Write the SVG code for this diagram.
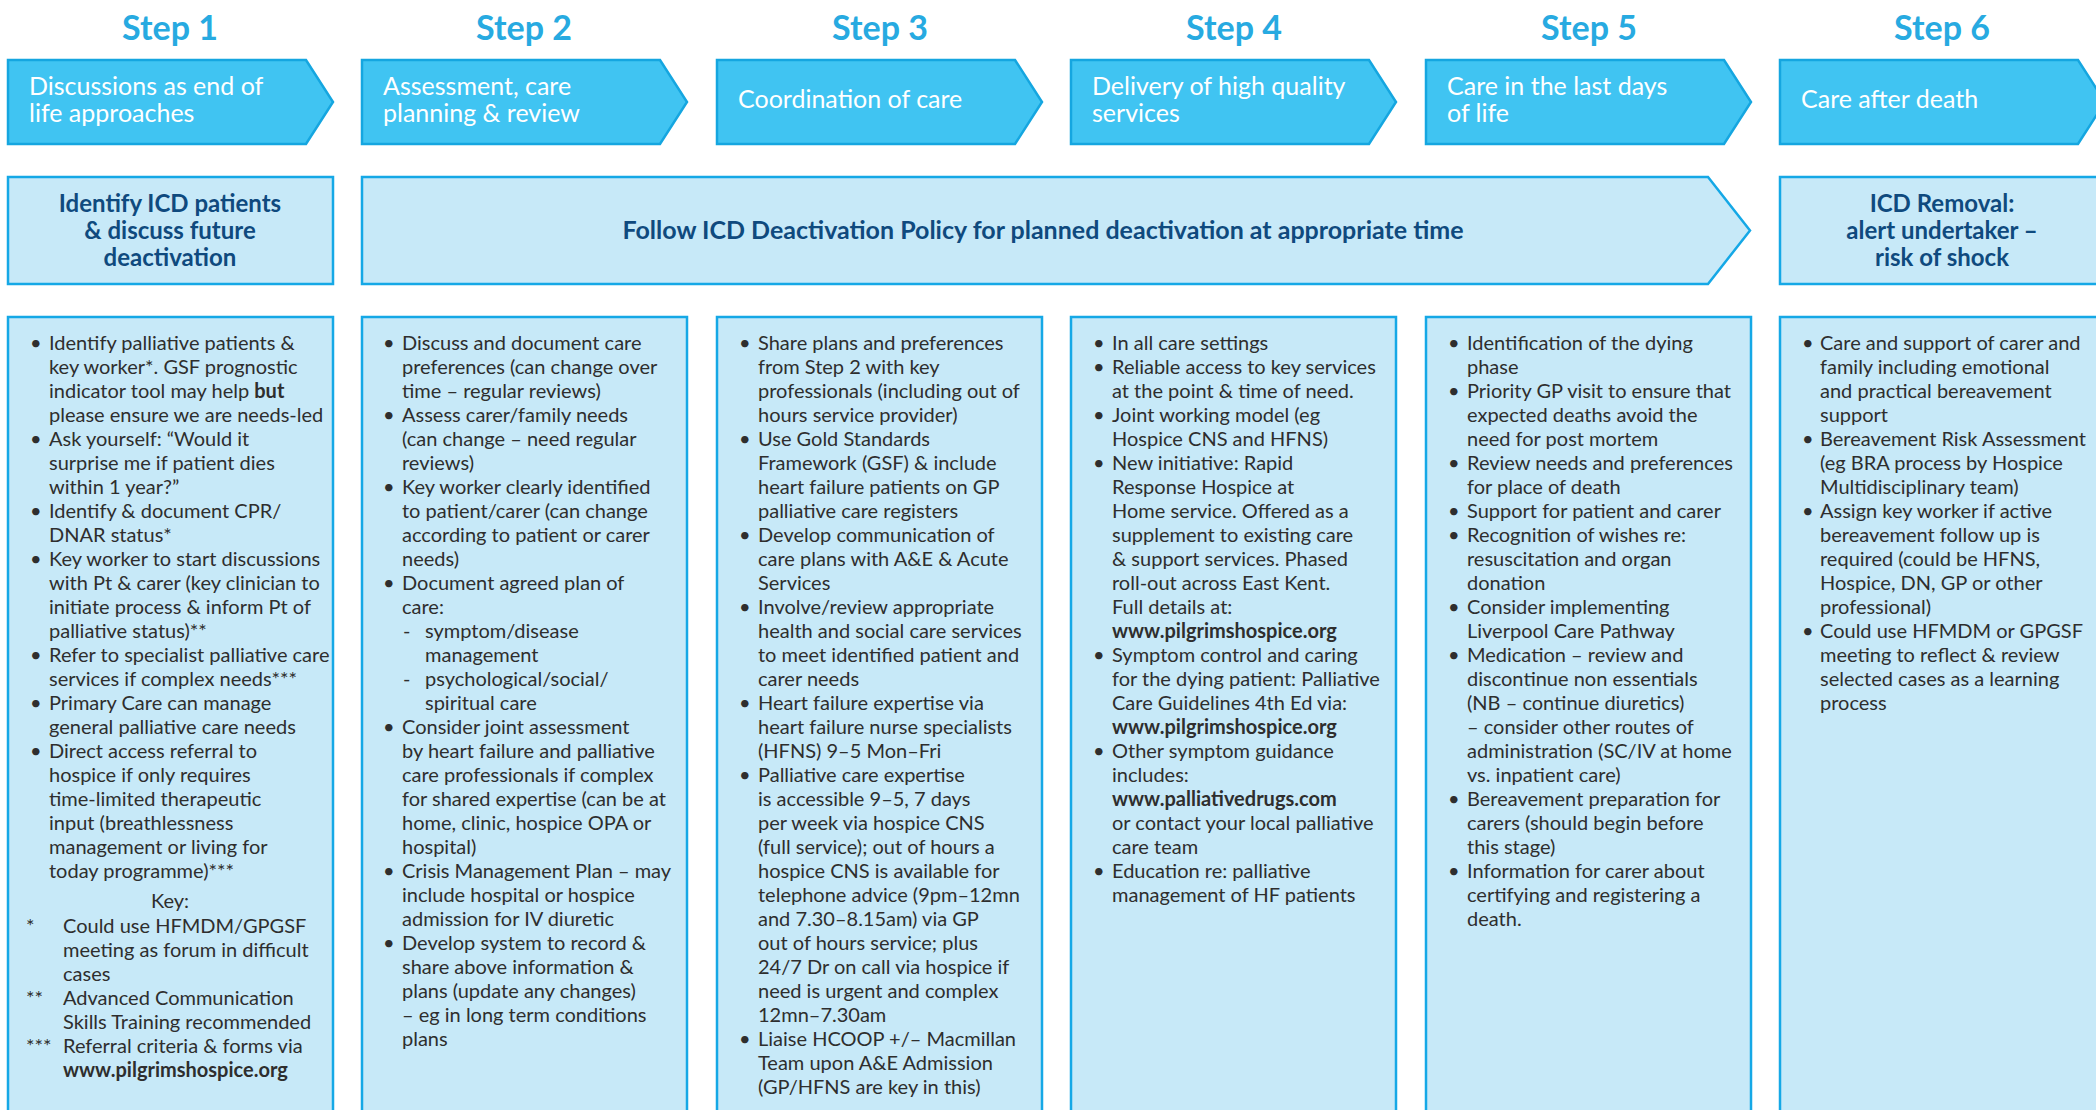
<svg xmlns="http://www.w3.org/2000/svg" width="2096" height="1110" viewBox="0 0 2096 1110">
<style>
.bg{fill:#ffffff}
.step{font-family:Lato,"Noto Sans",sans-serif;font-weight:bold;font-size:34px;fill:#27aae1;text-anchor:middle}
.hdr{fill:#40c4f2;stroke:#15a6e0;stroke-width:2.5}
.hdrt{font-family:Lato,"Noto Sans",sans-serif;font-size:25px;fill:#ffffff}
.lbox{fill:#c7e9f8;stroke:#15a8e6;stroke-width:2.5}
.lt{font-family:Lato,"Noto Sans",sans-serif;font-weight:bold;font-size:24px;fill:#0f4a7e;text-anchor:middle}
.body{font-family:Lato,"Noto Sans",sans-serif;font-size:20px;fill:#2e2e2e}
.b{font-weight:bold}
</style>
<rect class="bg" x="0" y="0" width="2096" height="1110"/>

<g id="col1">
  <text class="step" x="170" y="40">Step 1</text>
  <path class="hdr" d="M8,60 H306 L333,102 L306,144 H8 Z"/>
  <text class="hdrt" x="29" y="95">Discussions as end of</text>
  <text class="hdrt" x="29" y="122">life approaches</text>
  <rect class="lbox" x="8" y="177" width="325" height="107"/>
  <text class="lt" x="170" y="212">Identify ICD patients</text>
  <text class="lt" x="170" y="239">&amp; discuss future</text>
  <text class="lt" x="170" y="266">deactivation</text>
  <rect class="lbox" x="8" y="317" width="325" height="800"/>
  <text class="body">
    <tspan x="30" y="350">•</tspan><tspan x="30" y="446">•</tspan><tspan x="30" y="518">•</tspan><tspan x="30" y="566">•</tspan><tspan x="30" y="662">•</tspan><tspan x="30" y="710">•</tspan><tspan x="30" y="758">•</tspan>
  </text>
  <text class="body">
    <tspan x="49" y="350">Identify palliative patients &amp;</tspan>
    <tspan x="49" y="374">key worker*. GSF prognostic</tspan>
    <tspan x="49" y="398">indicator tool may help <tspan class="b">but</tspan></tspan>
    <tspan x="49" y="422">please ensure we are needs-led</tspan>
    <tspan x="49" y="446">Ask yourself: “Would it</tspan>
    <tspan x="49" y="470">surprise me if patient dies</tspan>
    <tspan x="49" y="494">within 1 year?”</tspan>
    <tspan x="49" y="518">Identify &amp; document CPR/</tspan>
    <tspan x="49" y="542">DNAR status*</tspan>
    <tspan x="49" y="566">Key worker to start discussions</tspan>
    <tspan x="49" y="590">with Pt &amp; carer (key clinician to</tspan>
    <tspan x="49" y="614">initiate process &amp; inform Pt of</tspan>
    <tspan x="49" y="638">palliative status)**</tspan>
    <tspan x="49" y="662">Refer to specialist palliative care</tspan>
    <tspan x="49" y="686">services if complex needs***</tspan>
    <tspan x="49" y="710">Primary Care can manage</tspan>
    <tspan x="49" y="734">general palliative care needs</tspan>
    <tspan x="49" y="758">Direct access referral to</tspan>
    <tspan x="49" y="782">hospice if only requires</tspan>
    <tspan x="49" y="806">time-limited therapeutic</tspan>
    <tspan x="49" y="830">input (breathlessness</tspan>
    <tspan x="49" y="854">management or living for</tspan>
    <tspan x="49" y="878">today programme)***</tspan>
  </text>
  <text class="body" x="170" y="908" text-anchor="middle">Key:</text>
  <text class="body">
    <tspan x="26" y="933">*</tspan>
    <tspan x="26" y="1005">**</tspan>
    <tspan x="26" y="1053">***</tspan>
  </text>
  <text class="body">
    <tspan x="63" y="933">Could use HFMDM/GPGSF</tspan>
    <tspan x="63" y="957">meeting as forum in difficult</tspan>
    <tspan x="63" y="981">cases</tspan>
    <tspan x="63" y="1005">Advanced Communication</tspan>
    <tspan x="63" y="1029">Skills Training recommended</tspan>
    <tspan x="63" y="1053">Referral criteria &amp; forms via</tspan>
    <tspan x="63" y="1077" class="b">www.pilgrimshospice.org</tspan>
  </text>
</g>

<g id="col2">
  <text class="step" x="524" y="40">Step 2</text>
  <path class="hdr" d="M362,60 H660 L687,102 L660,144 H362 Z"/>
  <text class="hdrt" x="383" y="95">Assessment, care</text>
  <text class="hdrt" x="383" y="122">planning &amp; review</text>
  <rect class="lbox" x="362" y="317" width="325" height="800"/>
  <text class="body">
    <tspan x="383" y="350">•</tspan><tspan x="383" y="422">•</tspan><tspan x="383" y="494">•</tspan><tspan x="383" y="590">•</tspan><tspan x="383" y="734">•</tspan><tspan x="383" y="878">•</tspan><tspan x="383" y="950">•</tspan>
  </text>
  <text class="body">
    <tspan x="402" y="350">Discuss and document care</tspan>
    <tspan x="402" y="374">preferences (can change over</tspan>
    <tspan x="402" y="398">time – regular reviews)</tspan>
    <tspan x="402" y="422">Assess carer/family needs</tspan>
    <tspan x="402" y="446">(can change – need regular</tspan>
    <tspan x="402" y="470">reviews)</tspan>
    <tspan x="402" y="494">Key worker clearly identified</tspan>
    <tspan x="402" y="518">to patient/carer (can change</tspan>
    <tspan x="402" y="542">according to patient or carer</tspan>
    <tspan x="402" y="566">needs)</tspan>
    <tspan x="402" y="590">Document agreed plan of</tspan>
    <tspan x="402" y="614">care:</tspan>
    <tspan x="403" y="638">-</tspan>
    <tspan x="425" y="638">symptom/disease</tspan>
    <tspan x="425" y="662">management</tspan>
    <tspan x="403" y="686">-</tspan>
    <tspan x="425" y="686">psychological/social/</tspan>
    <tspan x="425" y="710">spiritual care</tspan>
    <tspan x="402" y="734">Consider joint assessment</tspan>
    <tspan x="402" y="758">by heart failure and palliative</tspan>
    <tspan x="402" y="782">care professionals if complex</tspan>
    <tspan x="402" y="806">for shared expertise (can be at</tspan>
    <tspan x="402" y="830">home, clinic, hospice OPA or</tspan>
    <tspan x="402" y="854">hospital)</tspan>
    <tspan x="402" y="878">Crisis Management Plan – may</tspan>
    <tspan x="402" y="902">include hospital or hospice</tspan>
    <tspan x="402" y="926">admission for IV diuretic</tspan>
    <tspan x="402" y="950">Develop system to record &amp;</tspan>
    <tspan x="402" y="974">share above information &amp;</tspan>
    <tspan x="402" y="998">plans (update any changes)</tspan>
    <tspan x="402" y="1022">–  eg in long term conditions</tspan>
    <tspan x="402" y="1046">plans</tspan>
  </text>
</g>

<g id="follow-policy">
  <path class="lbox" d="M362,177 H1708 L1750,230.5 L1708,284 H362 Z"/>
  <text class="lt" x="1043" y="239" style="font-size:25px">Follow ICD Deactivation Policy for planned deactivation at appropriate time</text>
</g>

<g id="col3">
  <text class="step" x="880" y="40">Step 3</text>
  <path class="hdr" d="M717,60 H1015 L1042,102 L1015,144 H717 Z"/>
  <text class="hdrt" x="738" y="108">Coordination of care</text>
  <rect class="lbox" x="717" y="317" width="325" height="800"/>
  <text class="body">
    <tspan x="739" y="350">•</tspan><tspan x="739" y="446">•</tspan><tspan x="739" y="542">•</tspan><tspan x="739" y="614">•</tspan><tspan x="739" y="710">•</tspan><tspan x="739" y="782">•</tspan><tspan x="739" y="1046">•</tspan>
  </text>
  <text class="body">
    <tspan x="758" y="350">Share plans and preferences</tspan>
    <tspan x="758" y="374">from Step 2 with key</tspan>
    <tspan x="758" y="398">professionals (including out of</tspan>
    <tspan x="758" y="422">hours service provider)</tspan>
    <tspan x="758" y="446">Use Gold Standards</tspan>
    <tspan x="758" y="470">Framework (GSF) &amp; include</tspan>
    <tspan x="758" y="494">heart failure patients on GP</tspan>
    <tspan x="758" y="518">palliative care registers</tspan>
    <tspan x="758" y="542">Develop communication of</tspan>
    <tspan x="758" y="566">care plans with A&amp;E &amp; Acute</tspan>
    <tspan x="758" y="590">Services</tspan>
    <tspan x="758" y="614">Involve/review appropriate</tspan>
    <tspan x="758" y="638">health and social care services</tspan>
    <tspan x="758" y="662">to meet identified patient and</tspan>
    <tspan x="758" y="686">carer needs</tspan>
    <tspan x="758" y="710">Heart failure expertise via</tspan>
    <tspan x="758" y="734">heart failure nurse specialists</tspan>
    <tspan x="758" y="758">(HFNS) 9–5 Mon–Fri</tspan>
    <tspan x="758" y="782">Palliative care expertise</tspan>
    <tspan x="758" y="806">is accessible 9–5, 7 days</tspan>
    <tspan x="758" y="830">per week via hospice CNS</tspan>
    <tspan x="758" y="854">(full service); out of hours a</tspan>
    <tspan x="758" y="878">hospice CNS is available for</tspan>
    <tspan x="758" y="902">telephone advice (9pm–12mn</tspan>
    <tspan x="758" y="926">and 7.30–8.15am) via GP</tspan>
    <tspan x="758" y="950">out of hours service; plus</tspan>
    <tspan x="758" y="974">24/7 Dr on call via hospice if</tspan>
    <tspan x="758" y="998">need is urgent and complex</tspan>
    <tspan x="758" y="1022">12mn–7.30am</tspan>
    <tspan x="758" y="1046">Liaise HCOOP +/– Macmillan</tspan>
    <tspan x="758" y="1070">Team upon A&amp;E Admission</tspan>
    <tspan x="758" y="1094">(GP/HFNS are key in this)</tspan>
  </text>
</g>

<g id="col4">
  <text class="step" x="1234" y="40">Step 4</text>
  <path class="hdr" d="M1071,60 H1369 L1396,102 L1369,144 H1071 Z"/>
  <text class="hdrt" x="1092" y="95">Delivery of high quality</text>
  <text class="hdrt" x="1092" y="122">services</text>
  <rect class="lbox" x="1071" y="317" width="325" height="800"/>
  <text class="body">
    <tspan x="1093" y="350">•</tspan><tspan x="1093" y="374">•</tspan><tspan x="1093" y="422">•</tspan><tspan x="1093" y="470">•</tspan><tspan x="1093" y="662">•</tspan><tspan x="1093" y="758">•</tspan><tspan x="1093" y="878">•</tspan>
  </text>
  <text class="body">
    <tspan x="1112" y="350">In all care settings</tspan>
    <tspan x="1112" y="374">Reliable access to key services</tspan>
    <tspan x="1112" y="398">at the point &amp; time of need.</tspan>
    <tspan x="1112" y="422">Joint working model (eg</tspan>
    <tspan x="1112" y="446">Hospice CNS and HFNS)</tspan>
    <tspan x="1112" y="470">New initiative: Rapid</tspan>
    <tspan x="1112" y="494">Response Hospice at</tspan>
    <tspan x="1112" y="518">Home service. Offered as a</tspan>
    <tspan x="1112" y="542">supplement to existing care</tspan>
    <tspan x="1112" y="566">&amp; support services. Phased</tspan>
    <tspan x="1112" y="590">roll-out across East Kent.</tspan>
    <tspan x="1112" y="614">Full details at:</tspan>
    <tspan x="1112" y="638" class="b">www.pilgrimshospice.org</tspan>
    <tspan x="1112" y="662">Symptom control and caring</tspan>
    <tspan x="1112" y="686">for the dying patient: Palliative</tspan>
    <tspan x="1112" y="710">Care Guidelines 4th Ed via:</tspan>
    <tspan x="1112" y="734" class="b">www.pilgrimshospice.org</tspan>
    <tspan x="1112" y="758">Other symptom guidance</tspan>
    <tspan x="1112" y="782">includes:</tspan>
    <tspan x="1112" y="806" class="b">www.palliativedrugs.com</tspan>
    <tspan x="1112" y="830">or contact your local palliative</tspan>
    <tspan x="1112" y="854">care team</tspan>
    <tspan x="1112" y="878">Education re: palliative</tspan>
    <tspan x="1112" y="902">management of HF patients</tspan>
  </text>
</g>

<g id="col5">
  <text class="step" x="1589" y="40">Step 5</text>
  <path class="hdr" d="M1426,60 H1724 L1751,102 L1724,144 H1426 Z"/>
  <text class="hdrt" x="1447" y="95">Care in the last days</text>
  <text class="hdrt" x="1447" y="122">of life</text>
  <rect class="lbox" x="1426" y="317" width="325" height="800"/>
  <text class="body">
    <tspan x="1448" y="350">•</tspan><tspan x="1448" y="398">•</tspan><tspan x="1448" y="470">•</tspan><tspan x="1448" y="518">•</tspan><tspan x="1448" y="542">•</tspan><tspan x="1448" y="614">•</tspan><tspan x="1448" y="662">•</tspan><tspan x="1448" y="806">•</tspan><tspan x="1448" y="878">•</tspan>
  </text>
  <text class="body">
    <tspan x="1467" y="350">Identification of the dying</tspan>
    <tspan x="1467" y="374">phase</tspan>
    <tspan x="1467" y="398">Priority GP visit to ensure that</tspan>
    <tspan x="1467" y="422">expected deaths avoid the</tspan>
    <tspan x="1467" y="446">need for post mortem</tspan>
    <tspan x="1467" y="470">Review needs and preferences</tspan>
    <tspan x="1467" y="494">for place of death</tspan>
    <tspan x="1467" y="518">Support for patient and carer</tspan>
    <tspan x="1467" y="542">Recognition of wishes re:</tspan>
    <tspan x="1467" y="566">resuscitation and organ</tspan>
    <tspan x="1467" y="590">donation</tspan>
    <tspan x="1467" y="614">Consider implementing</tspan>
    <tspan x="1467" y="638">Liverpool Care Pathway</tspan>
    <tspan x="1467" y="662">Medication – review and</tspan>
    <tspan x="1467" y="686">discontinue non essentials</tspan>
    <tspan x="1467" y="710">(NB – continue diuretics)</tspan>
    <tspan x="1467" y="734">– consider other routes of</tspan>
    <tspan x="1467" y="758">administration (SC/IV at home</tspan>
    <tspan x="1467" y="782">vs. inpatient care)</tspan>
    <tspan x="1467" y="806">Bereavement preparation for</tspan>
    <tspan x="1467" y="830">carers (should begin before</tspan>
    <tspan x="1467" y="854">this stage)</tspan>
    <tspan x="1467" y="878">Information for carer about</tspan>
    <tspan x="1467" y="902">certifying and registering a</tspan>
    <tspan x="1467" y="926">death.</tspan>
  </text>
</g>

<g id="col6">
  <text class="step" x="1942" y="40">Step 6</text>
  <path class="hdr" d="M1780,60 H2078 L2105,102 L2078,144 H1780 Z"/>
  <text class="hdrt" x="1801" y="108">Care after death</text>
  <rect class="lbox" x="1780" y="177" width="325" height="107"/>
  <text class="lt" x="1942" y="212">ICD Removal:</text>
  <text class="lt" x="1942" y="239">alert undertaker –</text>
  <text class="lt" x="1942" y="266">risk of shock</text>
  <rect class="lbox" x="1780" y="317" width="325" height="800"/>
  <text class="body">
    <tspan x="1802" y="350">•</tspan><tspan x="1802" y="446">•</tspan><tspan x="1802" y="518">•</tspan><tspan x="1802" y="638">•</tspan>
  </text>
  <text class="body">
    <tspan x="1820" y="350">Care and support of carer and</tspan>
    <tspan x="1820" y="374">family including emotional</tspan>
    <tspan x="1820" y="398">and practical bereavement</tspan>
    <tspan x="1820" y="422">support</tspan>
    <tspan x="1820" y="446">Bereavement Risk Assessment</tspan>
    <tspan x="1820" y="470">(eg BRA process by Hospice</tspan>
    <tspan x="1820" y="494">Multidisciplinary team)</tspan>
    <tspan x="1820" y="518">Assign key worker if active</tspan>
    <tspan x="1820" y="542">bereavement follow up is</tspan>
    <tspan x="1820" y="566">required (could be HFNS,</tspan>
    <tspan x="1820" y="590">Hospice, DN, GP or other</tspan>
    <tspan x="1820" y="614">professional)</tspan>
    <tspan x="1820" y="638">Could use HFMDM or GPGSF</tspan>
    <tspan x="1820" y="662">meeting to reflect &amp; review</tspan>
    <tspan x="1820" y="686">selected cases as a learning</tspan>
    <tspan x="1820" y="710">process</tspan>
  </text>
</g>

<g id="connectors"></g>
</svg>
